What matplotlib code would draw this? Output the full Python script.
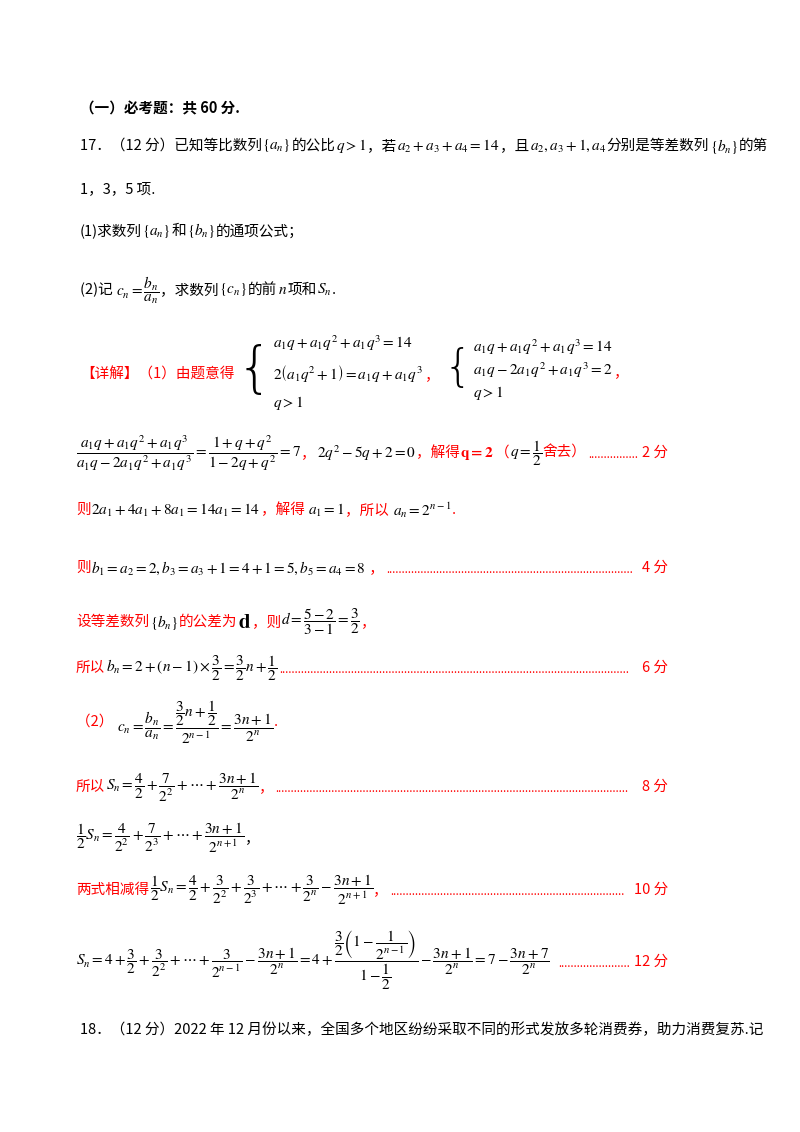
import matplotlib
matplotlib.use("Agg")
import matplotlib.pyplot as plt

plt.rcParams['font.family'] = ['Noto Sans CJK SC', 'DejaVu Sans']
plt.rcParams['mathtext.fontset'] = 'stix'

W, H = 800, 1132
fig = plt.figure(figsize=(8, 11.32), dpi=100)
fig.patch.set_facecolor('white')
R = fig.canvas.get_renderer()
RED = '#ff0000'
K = 'black'
FS = 10.5
MF = 11

def T(x, y, s, c=K, fs=FS, **kw):
    return fig.text(x / W, 1 - y / H, s, color=c, fontsize=fs, va='center', ha='left', **kw)

def right(t):
    return t.get_window_extent(R).x1

def flow(x, y, segs, gap=0.5):
    for seg in segs:
        s, c = seg[0], seg[1]
        fs = MF if '$' in s else FS
        if len(seg) > 2:
            fs = seg[2]
        x = right(T(x, y, s, c, fs)) + gap
    return x

def dots(x0, x1, y, label):
    n = int((x1 - x0) / 3.2)
    T(x0, y + 2, '.' * n, c=RED, fs=8)
    T(x1 + 2, y, label, c=RED)

def system(x, yc, lines, dy, bfs):
    b = T(x, yc - 2, '{', fs=bfs, family='DejaVu Sans', fontweight='light')
    x2 = right(b) + 1
    xm = x2
    n = len(lines)
    for i, s in enumerate(lines):
        t = T(x2, yc + (i - (n - 1) / 2) * dy, s, fs=MF)
        xm = max(xm, right(t))
    return xm

T(80, 108, '（一）必考题：共 60 分.', fontweight='bold')
flow(80, 146, [('17．（12 分）已知等比数列', K), (r'$\{a_n\}$', K), ('的公比', K), (r'$q>1$', K),
               ('，若', K), (r'$a_2+a_3+a_4=14$', K), ('，且', K), (r'$a_2,a_3+1,a_4$', K),
               ('分别是等差数列', K), (r'$\{b_n\}$', K), ('的第', K)])
T(80, 189, '1，3，5 项.')
flow(80, 231, [('(1)求数列', K), (r'$\{a_n\}$', K), ('和', K), (r'$\{b_n\}$', K), ('的通项公式；', K)])
flow(80, 290, [('(2)记 ', K), (r'$c_n=\dfrac{b_n}{a_n}$', K), ('，求数列', K), (r'$\{c_n\}$', K),
               ('的前', K), (r'$n$', K), ('项和', K), (r'$S_n$', K), ('.', K)])

# systems
x = right(T(80, 375, '【详解】（1）由题意得', c=RED)) + 2
x = system(x, 373, [r'$a_1q+a_1q^2+a_1q^3=14$', r'$2\left(a_1q^2+1\right)=a_1q+a_1q^3$', r'$q>1$'], 30, 40)
x = right(T(x + 2, 375, '，', c=RED)) + 4
x = system(x, 370, [r'$a_1q+a_1q^2+a_1q^3=14$', r'$a_1q-2a_1q^2+a_1q^3=2$', r'$q>1$'], 23, 32)
T(x + 2, 372, '，', c=RED)

x = flow(76, 453, [(r'$\dfrac{a_1q+a_1q^2+a_1q^3}{a_1q-2a_1q^2+a_1q^3}=\dfrac{1+q+q^2}{1-2q+q^2}=7$', K),
                   ('，', RED), (r'$2q^2-5q+2=0$', K), ('，解得', RED), (r'$\mathbf{q=2}$', RED),
                   ('（', RED), (r'$q=\dfrac{1}{2}$', K), ('舍去）', RED)])
dots(x + 2, 640, 453, '2 分')

flow(76, 510, [('则', RED), (r'$2a_1+4a_1+8a_1=14a_1=14$', K), ('，解得 ', RED), (r'$a_1=1$', K),
               ('，所以 ', RED), (r'$a_n=2^{n-1}$', K), ('.', RED)])

x = flow(76, 568, [('则', RED), (r'$b_1=a_2=2,b_3=a_3+1=4+1=5,b_5=a_4=8$', K), (' ，', RED)])
dots(x + 2, 640, 568, '4 分')

flow(76, 622, [('设等差数列', RED), (r'$\{b_n\}$', K), ('的公差为', RED), (r'$\mathbf{d}$', K, 15),
               ('，则', RED), (r'$d=\dfrac{5-2}{3-1}=\dfrac{3}{2}$', K), ('，', RED)])

x = flow(76, 668, [('所以', RED), (r'$b_n=2+\left(n-1\right)\times\dfrac{3}{2}=\dfrac{3}{2}n+\dfrac{1}{2}$', K)])
dots(x + 2, 640, 668, '6 分')

flow(76, 722, [('（2） ', RED), (r'$c_n=\dfrac{b_n}{a_n}=\dfrac{\dfrac{3}{2}n+\dfrac{1}{2}}{2^{n-1}}=\dfrac{3n+1}{2^n}$', K),
               ('.', RED)])

x = flow(76, 787, [('所以', RED), (r'$S_n=\dfrac{4}{2}+\dfrac{7}{2^2}+\cdots+\dfrac{3n+1}{2^n}$', K), ('，', RED)])
dots(x + 2, 640, 787, '8 分')

flow(76, 838, [(r'$\dfrac{1}{2}S_n=\dfrac{4}{2^2}+\dfrac{7}{2^3}+\cdots+\dfrac{3n+1}{2^{n+1}}$', K), ('，', K)])

x = flow(76, 890, [('两式相减得', RED),
                   (r'$\dfrac{1}{2}S_n=\dfrac{4}{2}+\dfrac{3}{2^2}+\dfrac{3}{2^3}+\cdots+\dfrac{3}{2^n}-\dfrac{3n+1}{2^{n+1}}$', K),
                   ('，', RED)])
dots(x + 2, 632, 890, '10 分')

x = flow(76, 960, [(r'$S_n=4+\dfrac{3}{2}+\dfrac{3}{2^2}+\cdots+\dfrac{3}{2^{n-1}}-\dfrac{3n+1}{2^n}=4+\dfrac{\dfrac{3}{2}\left(1-\dfrac{1}{2^{n-1}}\right)}{1-\dfrac{1}{2}}-\dfrac{3n+1}{2^n}=7-\dfrac{3n+7}{2^n}$', K, 11)])
dots(x + 8, 632, 962, '12 分')

T(80, 1030, '18．（12 分）2022 年 12 月份以来，全国多个地区纷纷采取不同的形式发放多轮消费券，助力消费复苏.记')

fig.savefig('out.png', dpi=100, facecolor='white')
